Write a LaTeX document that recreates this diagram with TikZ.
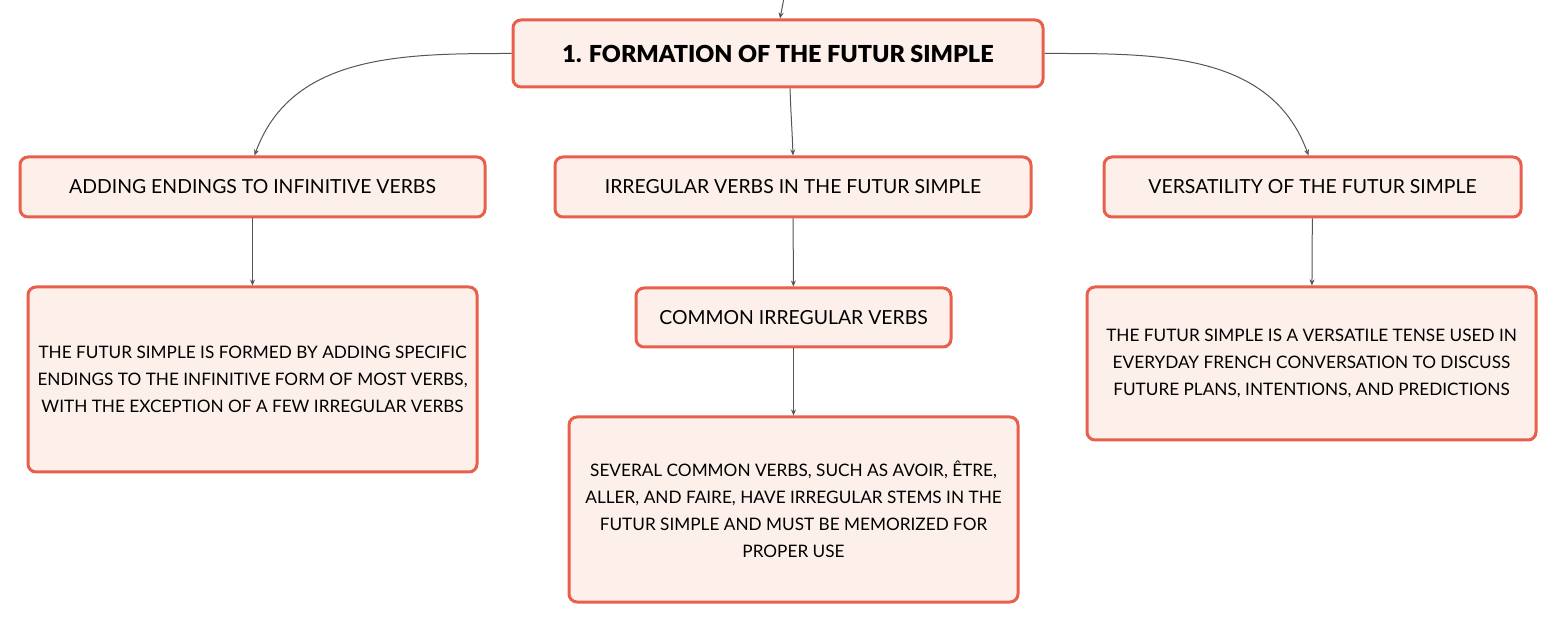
\documentclass[tikz,border=0pt]{standalone}
\usepackage{fontspec}
\setmainfont{Lato}
\newfontfamily\heavyfont{Lato Black}
\usetikzlibrary{arrows.meta,positioning}
\definecolor{edgered}{HTML}{E8604C}
\definecolor{boxfill}{HTML}{FDF0EB}
\definecolor{linkgray}{HTML}{555555}

\tikzset{
  box/.style={draw=edgered,line width=1.5pt,fill=boxfill,rounded corners=4pt,
    align=center,inner sep=0pt,text=black,font=\fontsize{8.6}{13.5}\selectfont},
  topic/.style={box,font=\fontsize{9.7}{12}\selectfont},
  title/.style={box,font=\fontsize{11.7}{14}\heavyfont},
  link/.style={draw=linkgray,line width=0.5pt,-{Stealth[length=3pt,width=2.5pt]}}
}

\begin{document}
\begin{tikzpicture}[x=0.5pt,y=-0.5pt]
   \useasboundingbox (0,0) rectangle (1557,624);
   \node[title,minimum width=265pt,minimum height=33.5pt] (formation) at (778,53.5) {1. FORMATION OF THE FUTUR SIMPLE};
   \coordinate (up) at (784,-2);

   \node[topic,minimum width=232.5pt,minimum height=30pt] (endings) at (252.5,187) {ADDING ENDINGS TO INFINITIVE VERBS};
   \node[topic,minimum width=238pt,minimum height=30pt] (irregular) at (793,187) {IRREGULAR VERBS IN THE FUTUR SIMPLE};
   \node[topic,minimum width=208.5pt,minimum height=30pt] (versatility) at (1312.5,187) {VERSATILITY OF THE FUTUR SIMPLE};

   \node[box,minimum width=224.5pt,minimum height=92.5pt] (endings_txt) at (252.5,379.5)
      {THE FUTUR SIMPLE IS FORMED BY ADDING SPECIFIC\\ENDINGS TO THE INFINITIVE FORM OF MOST VERBS,\\WITH THE EXCEPTION OF A FEW IRREGULAR VERBS};
   \node[topic,minimum width=157.5pt,minimum height=29.5pt] (common) at (793.5,317.5) {COMMON IRREGULAR VERBS};
   \node[box,minimum width=224.5pt,minimum height=76.5pt] (versatility_txt) at (1311.5,363.5)
      {THE FUTUR SIMPLE IS A VERSATILE TENSE USED IN\\EVERYDAY FRENCH CONVERSATION TO DISCUSS\\FUTURE PLANS, INTENTIONS, AND PREDICTIONS};
   \node[box,minimum width=224.5pt,minimum height=92.5pt] (common_txt) at (793.5,509.5)
      {SEVERAL COMMON VERBS, SUCH AS AVOIR, ÊTRE,\\ALLER, AND FAIRE, HAVE IRREGULAR STEMS IN THE\\FUTUR SIMPLE AND MUST BE MEMORIZED FOR\\PROPER USE};

   \draw[link] (up) -- ([xshift=1pt]formation.north);
   \draw[link] (formation.west) to[out=180,in=70] ([xshift=1pt]endings.north);
   \draw[link] ([xshift=6pt]formation.south) to[out=-88,in=92] (irregular.north);
   \draw[link] (formation.east) to[out=0,in=110] ([xshift=-2pt]versatility.north);
   \path[link]
    (endings) edge (endings_txt)
    (irregular) edge (common)
    (common) edge (common_txt)
    (versatility) edge (versatility_txt);
\end{tikzpicture}
\end{document}
